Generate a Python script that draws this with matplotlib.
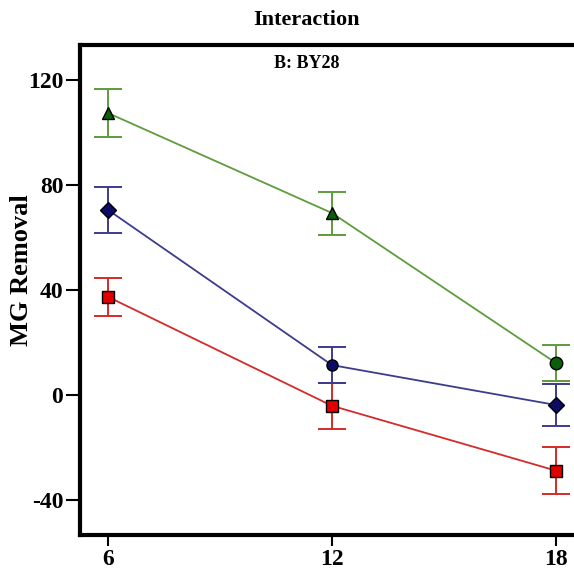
import matplotlib
matplotlib.use("Agg")
import matplotlib.pyplot as plt

plt.rcParams["font.family"] = ["Liberation Serif", "DejaVu Serif"]
plt.rcParams["font.weight"] = "bold"
plt.rcParams["axes.unicode_minus"] = False

x_levels = [6, 12, 18]

green_mean = [107.4, 69.3, 12.2]
green_err = [9.2, 8.2, 7.0]
green_markers = ["^", "^", "o"]

blue_mean = [70.5, 11.4, -3.8]
blue_err = [8.8, 7.0, 8.0]
blue_markers = ["D", "o", "D"]

red_mean = [37.4, -4.1, -28.8]
red_err = [7.3, 8.8, 9.0]
red_markers = ["s", "s", "s"]

y_ticks = [-40, 0, 40, 80, 120]

series = [
    (red_mean, red_err, red_markers, "#d42a2a", "#e00000", 9),
    (blue_mean, blue_err, blue_markers, "#3c3c8c", "#0c0c66", 8),
    (green_mean, green_err, green_markers, "#5e9c3c", "#0b5e0b", 9),
]

fig = plt.figure(figsize=(5.74, 5.69), dpi=100)
ax = fig.add_axes([80 / 574, 1 - 535 / 569, 504 / 574, 490 / 569])

for mean, err, markers, line_c, face_c, ms in series:
    ax.errorbar(x_levels, mean, yerr=err, fmt="none", ecolor=line_c,
                elinewidth=1.4, capsize=10, capthick=1.4, zorder=2)
    ax.plot(x_levels, mean, color=line_c, lw=1.3, zorder=3)
    for xv, yv, mk in zip(x_levels, mean, markers):
        ax.plot(xv, yv, marker=mk, ms=ms, markerfacecolor=face_c,
                markeredgecolor="black", markeredgewidth=1.0, zorder=4)

ax.set_xlim(5.25, 18.75)
ax.set_ylim(-53.3, 133.3)
ax.set_xticks(x_levels)
ax.set_yticks(y_ticks)
ax.tick_params(axis="x", labelsize=17, width=1.5, length=8, pad=2)
ax.tick_params(axis="y", labelsize=17, width=1.5, length=10, pad=2)
for lab in ax.get_xticklabels() + ax.get_yticklabels():
    lab.set_fontweight("bold")

ax.spines["right"].set_visible(False)
for side in ["left", "top", "bottom"]:
    ax.spines[side].set_linewidth(3)

ax.set_ylabel("MG Removal", fontsize=19, fontweight="bold")
ax.yaxis.set_label_coords((33 - 80) / 504, (535 - 270) / 490)

fig.text(307 / 574, 1 - 20 / 569, "Interaction", ha="center", va="center",
         fontsize=16, fontweight="bold")
fig.text(307 / 574, 1 - 64 / 569, "B: BY28", ha="center", va="center",
         fontsize=13, fontweight="bold")

fig.savefig("out.png", dpi=100)
